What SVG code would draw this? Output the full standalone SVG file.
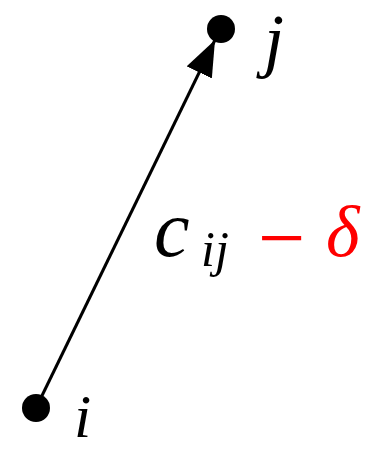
<svg xmlns="http://www.w3.org/2000/svg" width="376" height="453" viewBox="0 0 376 453">
<style>
.lbl{font-family:"Liberation Serif","Times New Roman",serif;font-style:italic;fill:#000}
.red{fill:#ff0000}
.edge{stroke:#000;stroke-width:3;fill:none}
</style>
<defs>
<marker id="arr" markerUnits="userSpaceOnUse" markerWidth="40" markerHeight="40" refX="36" refY="14" orient="auto">
<path d="M0,0 L36,14 L0,28 Z" fill="#000"/>
</marker>
</defs>
<g id="connectors">
<line class="edge" x1="36" y1="408" x2="215" y2="40" marker-end="url(#arr)"/>
</g>
<g id="node-i">
<circle cx="36" cy="408" r="14" fill="#000"/>
<text class="lbl" x="74" y="437" font-size="62">i</text>
</g>
<g id="node-j">
<circle cx="221" cy="29" r="14" fill="#000"/>
<text class="lbl" x="264" y="64" font-size="72">j</text>
</g>
<g id="label">
<text class="lbl" x="154" y="256" font-size="80">c</text>
<text class="lbl" x="201" y="266" font-size="50">ij</text>
<text x="258" y="266" font-size="84" font-family="Liberation Serif,serif" class="red">−</text>
<text class="lbl red" x="326" y="256" font-size="72">δ</text>
</g>
</svg>
